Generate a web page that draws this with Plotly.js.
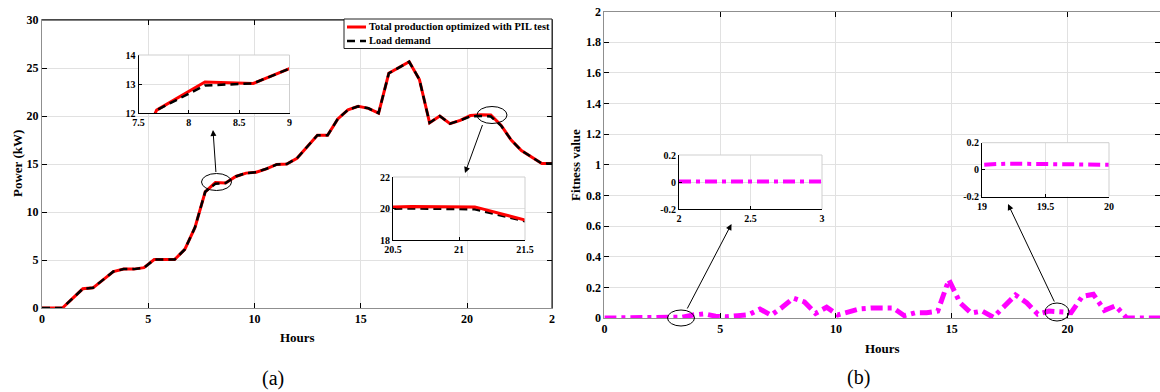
<!DOCTYPE html>
<html><head><meta charset="utf-8">
<script src="https://cdn.plot.ly/plotly-3.0.1.min.js"></script>
<style>html,body{margin:0;padding:0;background:#fff}#chart{width:1160px;height:392px}</style>
</head><body><div id="chart"></div>
<script>
// ---------- data ----------
const hours = [0,0.48,0.96,1.44,1.92,2.4,2.88,3.36,3.84,4.32,4.8,5.28,5.76,6.24,6.72,7.2,7.68,8.16,8.64,9.12,9.6,10.08,10.56,11.04,11.52,12,12.48,12.96,13.44,13.92,14.4,14.88,15.36,15.84,16.32,16.8,17.28,17.76,18.24,18.72,19.2,19.68,20.16,20.64,21.12,21.6,22.08,22.56,23.04,23.52,24];
const loadDemand = [0,0,0,1.0,2.0,2.1,2.95,3.8,4.05,4.05,4.2,5.05,5.05,5.05,6.1,8.4,12.1,12.95,13.02,13.7,14.05,14.15,14.5,14.95,15.0,15.6,16.8,18.0,18.0,19.7,20.65,21.0,20.8,20.3,24.45,25.05,25.65,23.8,19.3,20.0,19.2,19.55,19.95,20.0,19.95,19.0,17.5,16.4,15.7,15.05,15.05];
const totalProduction = [0,0,0,1.0,2.0,2.1,2.95,3.8,4.05,4.05,4.2,5.05,5.05,5.05,6.1,8.4,12.1,13.07,13.02,13.7,14.05,14.15,14.5,14.95,15.0,15.6,16.8,18.0,18.0,19.7,20.65,21.0,20.8,20.3,24.45,25.05,25.65,23.8,19.3,20.0,19.2,19.55,20.05,20.12,20.1,19.05,17.5,16.4,15.7,15.05,15.05];
const fitness = [0,0,0,0,0,0,0,0.005,0.02,0.027,0.012,0.008,0.015,0.022,0.058,0.018,0.07,0.13,0.105,0.03,0.07,0.02,0.04,0.06,0.065,0.068,0.065,0.015,0.035,0.035,0.045,0.25,0.1,0.032,0.045,0.005,0.08,0.15,0.1,0.025,0.045,0.042,0.035,0.14,0.155,0.05,0.08,0,0,0,0];

const seriesNames = ['Total production optimized with PIL test', 'Load demand'];
const mainXTicks = [0,5,10,15,20,24];
const mainXTickText = ['0','5','10','15','20','2'];
const inset1XTicks = [7.5,8,8.5,9];
const inset1YTicks = [12,13,14];
const inset2XTicks = [20.5,21,21.5];
const inset2YTicks = [18,20,22];
const fitInset1XTicks = [2,2.5,3];
const fitInset2XTicks = [19,19.5,20];
const fitInsetYTicks = [-0.2,0,0.2];
const fitInsetYText = ['-0.2','0','0.2'];

// ---------- layout helpers ----------
const W = 1160, H = 392;
const px = v => v / W;
const py = v => 1 - v / H;
const FONT = 'Liberation Serif';
const GRID = '#e1e1e1';
const AX = '#8f8f8f';
const tf = s => ({family: FONT, size: s, color: '#000', weight: 'bold'});

function mainAxis(extra) {
  return Object.assign({
    showgrid: true, gridcolor: GRID, gridwidth: 1, zeroline: false,
    showline: true, linecolor: AX, linewidth: 1, mirror: 'ticks',
    ticks: 'inside', ticklen: 5, tickcolor: '#000', tickwidth: 1,
    tickfont: tf(12), fixedrange: true
  }, extra);
}
function insetAxis(extra) {
  return Object.assign({
    showgrid: true, gridcolor: GRID, gridwidth: 1, zeroline: false,
    showline: true, linecolor: '#000', linewidth: 1, mirror: false,
    ticks: 'inside', ticklen: 3, tickcolor: '#000', tickwidth: 1,
    tickfont: tf(10), fixedrange: true
  }, extra);
}

const RED = '#ff0000', MAG = '#ff00ff';
const BLACKDASH = '8px,5px';
const MAGDASH = '12px,5px,4px,5px';
const traces = [
  {x: hours, y: totalProduction, xaxis: 'x', yaxis: 'y', type: 'scatter', mode: 'lines',
   name: seriesNames[0], line: {color: RED, width: 3}},
  {x: hours, y: loadDemand, xaxis: 'x', yaxis: 'y', type: 'scatter', mode: 'lines',
   name: seriesNames[1], line: {color: '#000', width: 2.5, dash: BLACKDASH}},
  {x: hours, y: totalProduction, xaxis: 'x2', yaxis: 'y2', mode: 'lines', line: {color: RED, width: 3}},
  {x: hours, y: loadDemand, xaxis: 'x2', yaxis: 'y2', mode: 'lines', line: {color: '#000', width: 2.5, dash: BLACKDASH}},
  {x: hours, y: loadDemand, xaxis: 'x3', yaxis: 'y3', mode: 'lines', line: {color: '#000', width: 2.5, dash: BLACKDASH}},
  {x: hours, y: totalProduction, xaxis: 'x3', yaxis: 'y3', mode: 'lines', line: {color: RED, width: 3}},
  {x: hours, y: fitness, xaxis: 'x4', yaxis: 'y4', mode: 'lines', name: 'Fitness value', line: {color: MAG, width: 5, dash: MAGDASH}},
  {x: hours, y: fitness, xaxis: 'x5', yaxis: 'y5', mode: 'lines', line: {color: MAG, width: 4, dash: MAGDASH}},
  {x: hours, y: fitness, xaxis: 'x6', yaxis: 'y6', mode: 'lines', line: {color: MAG, width: 4, dash: MAGDASH}}
];

function ellipse(cx, cy, w, h) {
  return {type: 'circle', xref: 'paper', yref: 'paper', x0: px(cx - w/2), x1: px(cx + w/2),
          y0: py(cy + h/2), y1: py(cy - h/2), line: {color: '#000', width: 1}};
}
function edge(x0, y0, x1, y1, c, w, dash) {
  return {type: 'line', xref: 'paper', yref: 'paper', x0: px(x0), y0: py(y0), x1: px(x1), y1: py(y1),
          line: {color: c, width: w || 1, dash: dash || 'solid'}};
}
function arrow(hx, hy, tx, ty) {
  return {xref: 'paper', yref: 'paper', x: px(hx), y: py(hy), ax: tx - hx, ay: ty - hy,
          text: '', showarrow: true, arrowhead: 2, arrowsize: 1.2, arrowwidth: 1, arrowcolor: '#000'};
}
function label(text, x, y, size, bold, angle, anchor) {
  return {xref: 'paper', yref: 'paper', x: px(x), y: py(y), text: text, showarrow: false,
          xanchor: anchor || 'center', yanchor: 'middle', textangle: angle || 0,
          font: {family: FONT, size: size, color: '#000', weight: bold ? 'bold' : 'normal'}};
}

const layout = {
  width: W, height: H, margin: {l: 0, r: 0, t: 0, b: 0},
  paper_bgcolor: '#fff', plot_bgcolor: '#fff', showlegend: false, hovermode: false,
  xaxis: mainAxis({domain: [px(42), px(552)], range: [0, 24], tickvals: mainXTicks, ticktext: mainXTickText, anchor: 'y'}),
  yaxis: mainAxis({domain: [py(308), py(20)], range: [0, 30], dtick: 5, anchor: 'x'}),
  xaxis2: insetAxis({domain: [px(138.5), px(289.5)], range: [7.5, 9], tickvals: inset1XTicks, anchor: 'y2'}),
  yaxis2: insetAxis({domain: [py(113), py(55)], range: [12, 14], tickvals: inset1YTicks, anchor: 'x2'}),
  xaxis3: insetAxis({domain: [px(393), px(525)], range: [20.5, 21.5], tickvals: inset2XTicks, anchor: 'y3'}),
  yaxis3: insetAxis({domain: [py(240), py(177)], range: [18, 22], tickvals: inset2YTicks, anchor: 'x3'}),
  xaxis4: mainAxis({domain: [px(604.4), 1], range: [0, 24], tickvals: [0,5,10,15,20], anchor: 'y4'}),
  yaxis4: mainAxis({domain: [py(318), py(11.5)], range: [0, 2], dtick: 0.2, anchor: 'x4'}),
  xaxis5: insetAxis({domain: [px(679), px(822)], range: [2, 3], tickvals: fitInset1XTicks, anchor: 'y5'}),
  yaxis5: insetAxis({domain: [py(209), py(155)], range: [-0.2, 0.2], tickvals: fitInsetYTicks, ticktext: fitInsetYText, anchor: 'x5'}),
  xaxis6: insetAxis({domain: [px(982), px(1109)], range: [19, 20], tickvals: fitInset2XTicks, anchor: 'y6'}),
  yaxis6: insetAxis({domain: [py(196.7), py(142.7)], range: [-0.2, 0.2], tickvals: fitInsetYTicks, ticktext: fitInsetYText, anchor: 'x6'}),
  shapes: [
    edge(42, 20, 552, 20, '#000'), edge(552, 20, 552, 308, '#000'),
    edge(138.5, 55, 289.5, 55, '#cfcfcf'), edge(289.5, 55, 289.5, 113, '#cfcfcf'),
    edge(393, 177, 525, 177, '#cfcfcf'), edge(525, 177, 525, 240, '#cfcfcf'),
    edge(679, 155, 822, 155, '#cfcfcf'), edge(822, 155, 822, 209, '#cfcfcf'),
    edge(982, 142.7, 1109, 142.7, '#cfcfcf'), edge(1109, 142.7, 1109, 196.7, '#cfcfcf'),
    ellipse(216.5, 182, 30, 17), ellipse(492, 115, 30, 17),
    ellipse(681, 318, 27, 16), ellipse(1057, 312, 24, 18),
    // legend box
    {type: 'rect', xref: 'paper', yref: 'paper', x0: px(344), x1: px(552), y0: py(48.5), y1: py(19),
     fillcolor: '#fff', line: {color: '#222', width: 1}},
    edge(347, 27, 366, 27, RED, 3),
    edge(347, 41, 366, 41, '#000', 2.5, '8px,5px')
  ],
  annotations: [
    arrow(213, 130, 216, 173.5), arrow(465, 173, 483, 123.5),
    arrow(731.5, 224, 686.5, 310), arrow(1008, 204, 1055, 303),
    label(seriesNames[0], 367, 27, 10.4, true, 0, 'left'),
    label(seriesNames[1], 367, 41, 10.4, true, 0, 'left'),
    label('Power (kW)', 17, 164, 13, true, -90),
    label('Hours', 297, 337, 13, true),
    label('Fitness value', 575, 165, 13, true, -90),
    label('Hours', 882, 348, 13, true),
    label('(a)', 273, 378, 20, false),
    label('(b)', 858, 377, 20, false)
  ]
};

Plotly.newPlot('chart', traces, layout, {staticPlot: true, displayModeBar: false});
</script>
</body></html>
